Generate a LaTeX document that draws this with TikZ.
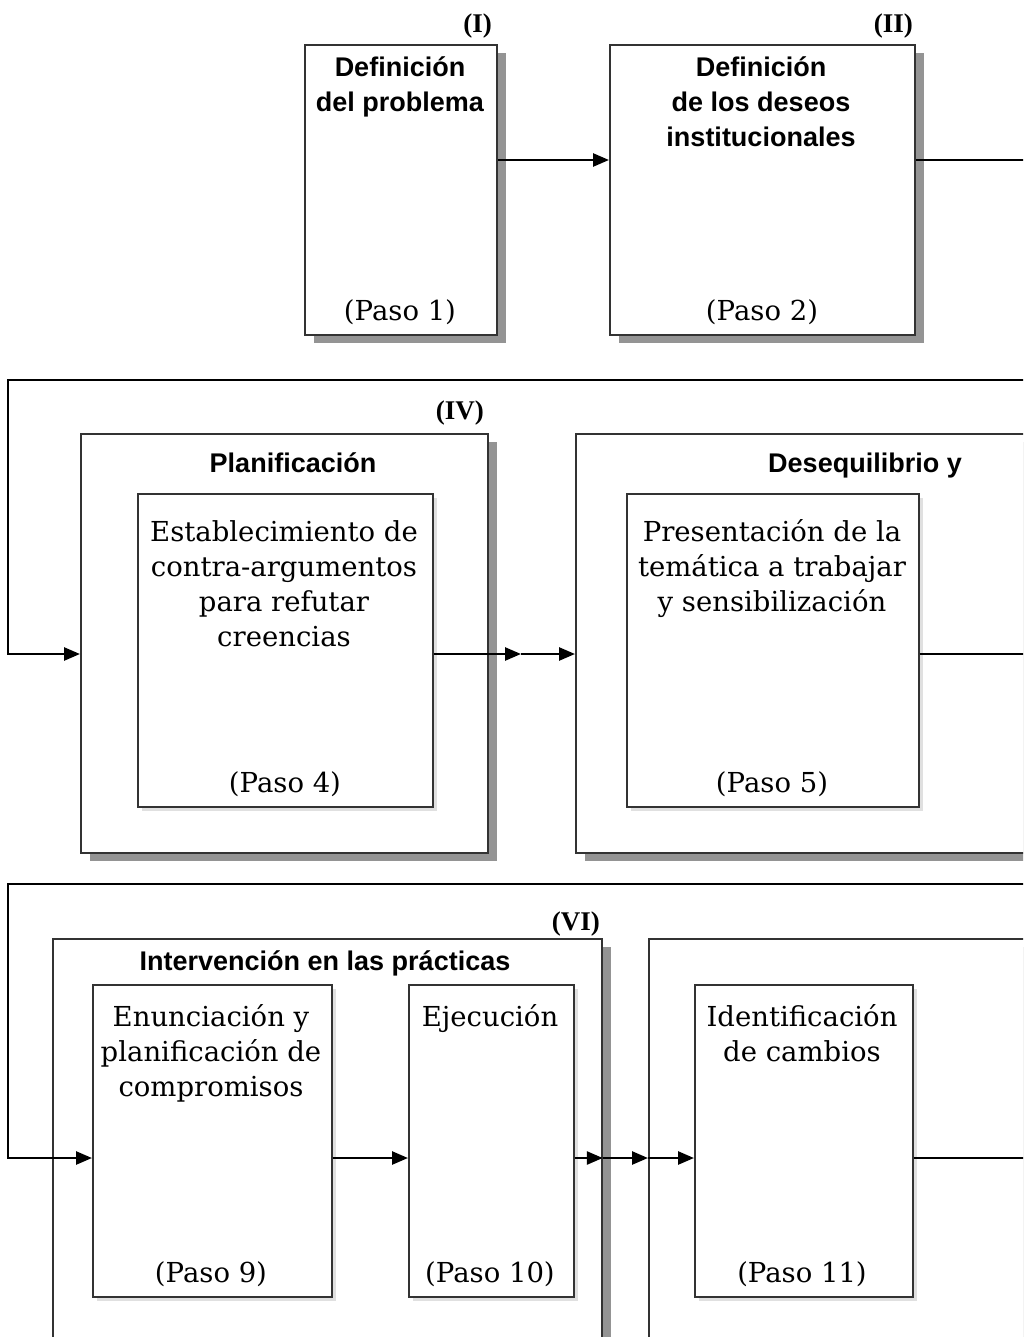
\documentclass[tikz,border=0pt]{standalone}
\usepackage{fontspec}
\setmainfont{DejaVu Serif}
\newfontfamily\hsans{Liberation Sans}
\newfontfamily\rnum{Liberation Serif}
\usetikzlibrary{arrows.meta,shadows}
\begin{document}
\begin{tikzpicture}[x=1pt,y=-1pt,
  outerbox/.style={draw=black!80, line width=1.8pt, fill=white, anchor=north west, inner sep=0pt,
    drop shadow={shadow xshift=9pt, shadow yshift=-8pt, fill=black!42, opacity=1}},
  innerbox/.style={draw=black!80, line width=1.5pt, fill=white, anchor=north west, inner sep=0pt,
    drop shadow={shadow xshift=4pt, shadow yshift=-4pt, fill=black!12, opacity=1}},
  title/.style={font=\hsans\bfseries\fontsize{27}{35}\selectfont, align=center, anchor=base, inner sep=0pt},
  body/.style={font=\fontsize{27.5}{35}\selectfont, align=center, anchor=base, inner sep=0pt},
  paso/.style={font=\fontsize{27.5}{35}\selectfont, anchor=base, inner sep=0pt},
  numlab/.style={font=\rnum\bfseries\fontsize{27}{30}\selectfont, anchor=base east, inner sep=0pt},
  conn/.style={line width=2.6pt, black},
  arr/.style={conn, -{Triangle[length=16pt,width=13pt]}},
]
\useasboundingbox (0,0) rectangle (1023,1337);
\clip (0,0) rectangle (1023,1337);
\fill[white] (0,0) rectangle (1023,1337);

% ---- Row 1
\node[outerbox, minimum width=192pt, minimum height=290pt] (b1) at (304,44) {};
\node[outerbox, minimum width=305pt, minimum height=290pt] (b2) at (609,44) {};
\node[numlab] (n1) at (492,33) {(I)};
\node[numlab] (n2) at (913,33) {(II)};
\node[title] (t1) at (400,112) {Definición\\del problema};
\node[title] (t2) at (761,147) {Definición\\de los deseos\\institucionales};
\node[paso] (p1) at (400,320) {(Paso 1)};
\node[paso] (p2) at (762,320) {(Paso 2)};

% ---- Row 2
\node[outerbox, minimum width=407pt, minimum height=419pt] (o4) at (80,433) {};
\node[innerbox, minimum width=295pt, minimum height=313pt] (i4) at (137,493) {};
\node[outerbox, minimum width=600pt, minimum height=419pt] (o5) at (575,433) {};
\node[innerbox, minimum width=292pt, minimum height=313pt] (i5) at (626,493) {};
\node[numlab] (n4) at (484,419) {(IV)};
\node[title] (t4) at (293,472) {Planificación};
\node[title] (t5) at (865,472) {Desequilibrio y};
\node[body] (x4) at (284,646) {Establecimiento de\\contra-argumentos\\para refutar\\creencias};
\node[body] (x5) at (772,611) {Presentación de la\\temática a trabajar\\y sensibilización};
\node[paso] (p4) at (285,792) {(Paso 4)};
\node[paso] (p5) at (772,792) {(Paso 5)};

% ---- Row 3
\node[outerbox, minimum width=549pt, minimum height=450pt] (o6) at (52,938) {};
\node[innerbox, minimum width=239pt, minimum height=312pt] (i9) at (92,984) {};
\node[innerbox, minimum width=165pt, minimum height=312pt] (i10) at (408,984) {};
\node[outerbox, minimum width=600pt, minimum height=450pt] (o7) at (648,938) {};
\node[innerbox, minimum width=218pt, minimum height=312pt] (i11) at (694,984) {};
\node[numlab] (n6) at (600,930) {(VI)};
\node[title] (t6) at (325,970) {Intervención en las prácticas};
\node[body] (x9) at (211,1096) {Enunciación y\\planificación de\\compromisos};
\node[body] (x10) at (490,1026) {Ejecución};
\node[body] (x11) at (802,1061) {Identificación\\de cambios};
\node[paso] (p9) at (211,1282) {(Paso 9)};
\node[paso] (p10) at (490,1282) {(Paso 10)};
\node[paso] (p11) at (802,1282) {(Paso 11)};

% ---- Connectors
\coordinate (r1) at (0,160);
\coordinate (e1) at (1040,160);
\draw[arr] (b1.east |- r1) -- (b2.west |- r1);
\draw[conn] (b2.east |- r1) -- (e1);

\coordinate (r2) at (0,654);
\coordinate (s2) at (1040,380);
\coordinate (c2) at (8,380);
\coordinate (m2) at (521,654);
\coordinate (e2) at (1040,654);
\draw[arr] (s2) -- (c2) -- (c2 |- r2) -- (o4.west |- r2);
\draw[arr] (i4.east |- r2) -- (m2);
\draw[arr] (m2) -- (o5.west |- r2);
\draw[conn] (i5.east |- r2) -- (e2);

\coordinate (r3) at (0,1158);
\coordinate (s3) at (1040,884);
\coordinate (c3) at (8,884);
\coordinate (e3) at (1040,1158);
\draw[arr] (s3) -- (c3) -- (c3 |- r3) -- (i9.west |- r3);
\draw[arr] (i9.east |- r3) -- (i10.west |- r3);
\draw[arr] (i10.east |- r3) -- (o6.east |- r3);
\draw[arr] (o6.east |- r3) -- (o7.west |- r3);
\draw[arr] (o7.west |- r3) -- (i11.west |- r3);
\draw[conn] (i11.east |- r3) -- (e3);
\end{tikzpicture}
\end{document}
